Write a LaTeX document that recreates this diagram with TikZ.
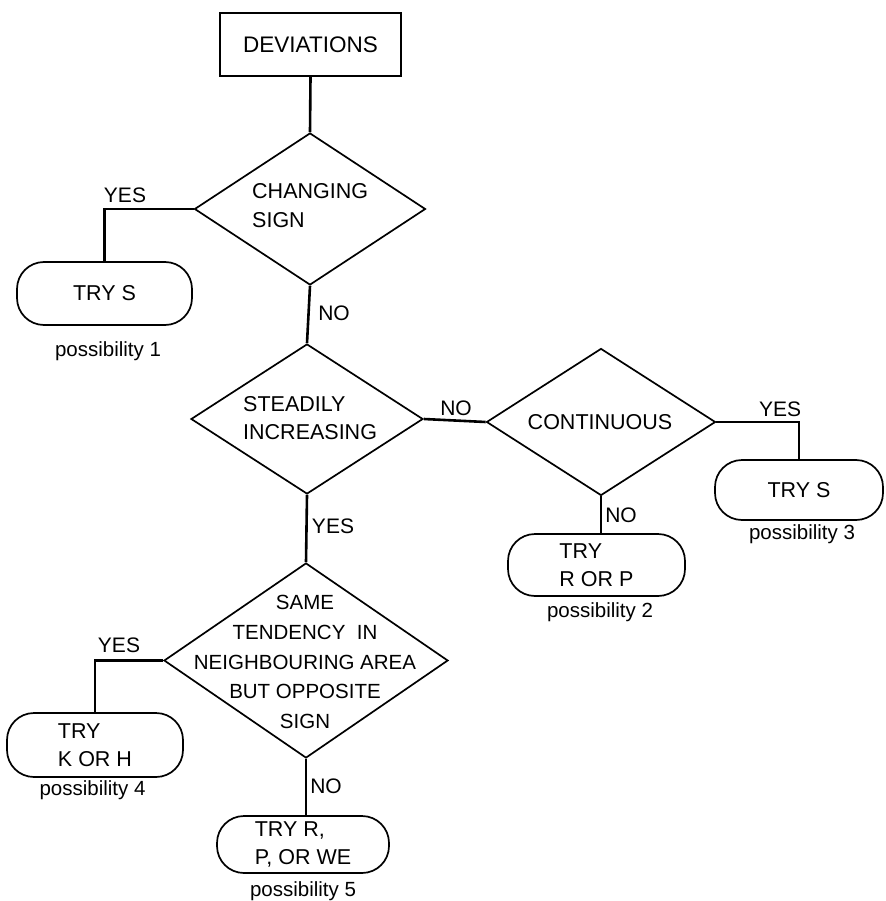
\documentclass[tikz,border=0pt]{standalone}
\usepackage{fontspec}
\setmainfont{Liberation Sans}
\usetikzlibrary{shapes.geometric}
\begin{document}
\begin{tikzpicture}[x=1pt,y=-1pt,
  shapeline/.style={draw, line width=1.7pt, inner sep=0pt},
  decision/.style={shapeline, diamond},
  terminal/.style={shapeline, rectangle, rounded corners=27pt, align=left,
    font=\fontsize{21.5}{28.5}\selectfont},
  startbox/.style={shapeline, rectangle, font=\fontsize{22.5}{28.5}\selectfont},
  txt/.style={inner sep=0pt, font=\fontsize{21.5}{28.5}\selectfont},
  lbl/.style={inner sep=0pt, font=\fontsize{21}{24}\selectfont},
  poss/.style={inner sep=0pt, font=\fontsize{20.5}{24}\selectfont},
  conn/.style={line width=2.6pt}]
\path[use as bounding box] (0,0) rectangle (885,901);

% start
\node[startbox, minimum width=181pt, minimum height=63pt] (dev) at (310.5,44.5) {DEVIATIONS};

% decisions
\node[decision, minimum width=231pt, minimum height=152pt] (d1) at (310,209) {};
\node[txt, anchor=west, align=left] (t1) at (252,205.5) {CHANGING\\SIGN};

\node[decision, minimum width=232pt, minimum height=150pt] (d2) at (307,419) {};
\node[txt, anchor=west, align=left] (t2) at (243,418) {STEADILY\\INCREASING};

\node[decision, minimum width=229pt, minimum height=147pt] (d3) at (601,422) {};
\node[txt] (t3) at (600,422) {CONTINUOUS};

\node[decision, minimum width=284pt, minimum height=195pt] (d4) at (306,660.5) {};
\node[txt, align=center, font=\fontsize{20.5}{29.7}\selectfont] (t4) at (305,662)
  {SAME\\TENDENCY\ \ IN\\NEIGHBOURING AREA\\BUT OPPOSITE\\SIGN};

% terminals
\node[terminal, minimum width=175pt, minimum height=63pt] (b1) at (104.5,293.5) {TRY S};
\node[terminal, minimum width=168pt, minimum height=60pt] (b3) at (799,490) {TRY S};
\node[terminal, minimum width=177pt, minimum height=62pt] (b2) at (596.5,565) {TRY\\R OR P};
\node[terminal, minimum width=176pt, minimum height=64pt] (b4) at (95,745) {TRY\\K OR H};
\node[terminal, minimum width=172pt, minimum height=57pt] (b5) at (303,844.5) {TRY R,\\P, OR WE};

% possibility captions
\node[poss] (p1) at (108,351) {possibility 1};
\node[poss] (p3) at (802,534) {possibility 3};
\node[poss] (p2) at (600,612) {possibility 2};
\node[poss] (p4) at (92.5,790) {possibility 4};
\node[poss] (p5) at (303,891) {possibility 5};

% connectors
\draw[conn] (dev.south) -- (d1.north);
\draw[conn] (d1.west) -| (b1.north);
\draw[conn] (d1.south) -- (d2.north);
\draw[conn] (d2.east) -- (d3.west);
\draw[conn] (d3.east) -| (b3.north);
\draw[conn] (d3.south) -- (d3.south |- b2.north);
\draw[conn] (d2.south) -- (d4.north);
\draw[conn] (d4.west) -| (b4.north);
\draw[conn] (d4.south) -- (d4.south |- b5.north);

% connector labels
\node[lbl] (y1) at (125,195) {YES};
\node[lbl] (n1) at (334,313) {NO};
\node[lbl] (n2) at (456,408) {NO};
\node[lbl] (y3) at (780,409) {YES};
\node[lbl] (n3) at (621,515) {NO};
\node[lbl] (y2) at (333,526) {YES};
\node[lbl] (y4) at (119,645) {YES};
\node[lbl] (n4) at (326,786) {NO};
\end{tikzpicture}
\end{document}
